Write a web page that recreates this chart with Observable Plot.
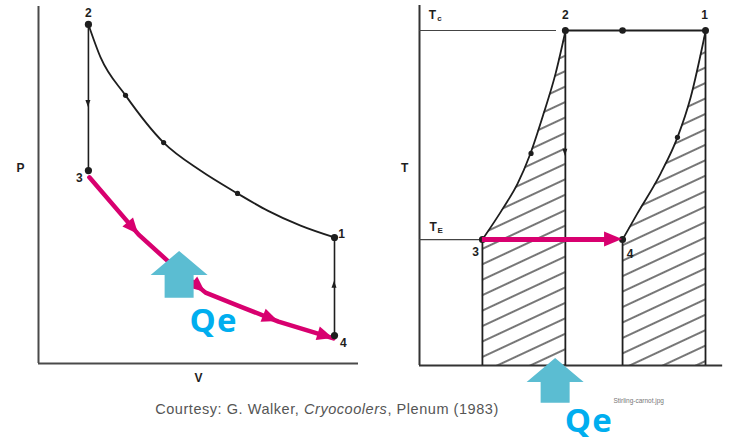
<!DOCTYPE html>
<html><head><meta charset="utf-8">
<script src="https://cdn.jsdelivr.net/npm/d3@7"></script>
<script src="https://cdn.jsdelivr.net/npm/@observablehq/plot@0.6"></script>
<style>
html,body{margin:0;padding:0;background:#fff;}
#wrap{position:relative;width:734px;height:443px;overflow:hidden;background:#fff;}
#pv{position:absolute;left:0;top:0;}
#ts{position:absolute;left:370px;top:0;}
#cap{position:absolute;left:0;width:654px;top:401px;text-align:center;font:14.5px "Liberation Sans",Arial,sans-serif;letter-spacing:0.55px;color:#555;}
</style></head><body>
<div id="wrap"><div id="pv"></div><div id="ts"></div><div id="cap">Courtesy: G. Walker, <i>Cryocoolers</i>, Plenum (1983)</div></div>
<script>
// ---------- P–V diagram data ----------
const pvStates = [
  {id:"1", V:9.25, P:3.52},
  {id:"2", V:1.56, P:9.47},
  {id:"3", V:1.56, P:5.39},
  {id:"4", V:9.25, P:0.78}
];
const pvCompression = [ // 1 -> 2 (isotherm at Tc)
  {V:9.25,P:3.52},{V:8.19,P:3.85},{V:7.16,P:4.27},{V:6.22,P:4.75},{V:5.06,P:5.39},
  {V:3.91,P:6.17},{V:2.72,P:7.49},{V:1.94,P:8.55},{V:1.56,P:9.47}
];
const pvExpansion = [ // 3 -> 4 (isotherm at TE), highlighted
  {V:1.59,P:5.20},{V:3.13,P:3.60},{V:4.13,P:2.79},{V:5.22,P:1.98},
  {V:6.31,P:1.59},{V:7.50,P:1.17},{V:9.22,P:0.70}
];
const pvExpansionHeads = [1,3,5,6];
const pvFlowDots = [{V:2.72,P:7.49},{V:3.91,P:6.17},{V:6.22,P:4.75}];
const pvFlowArrows = [{V:1.56,P0:7.55,P1:7.15},{V:9.25,P0:1.9,P1:2.3}];
const pvLabels = [{t:"2",V:1.56,P:9.80},{t:"3",V:1.28,P:5.17},{t:"1",V:9.47,P:3.62},{t:"4",V:9.53,P:0.57}];
const pvAxisLabels = [{t:"P",V:-0.56,P:5.47},{t:"V",V:5.0,P:-0.42}];
const pvHeat = [{V:4.41, tip:3.13, tail:1.82}];
const pvQe = [{t:"Qe", V:4.72, P:1.17}];

// ---------- T–S diagram data ----------
const tsStates = [
  {id:"1", S:10.0, T:10.0},
  {id:"2", S:5.10, T:10.0},
  {id:"3", S:2.20, T:3.76},
  {id:"4", S:7.10, T:3.76}
];
const tsMidDot = [{S:7.10, T:10.0}];
const tsCurve32 = [
  {S:2.20,T:3.76},{S:2.94,T:4.72},{S:3.43,T:5.43},{S:3.88,T:6.33},{S:4.34,T:7.52},{S:4.76,T:8.72},{S:5.10,T:9.97}
];
const tsCurve41 = [
  {S:7.10,T:3.76},{S:7.62,T:4.54},{S:8.43,T:5.73},{S:9.02,T:6.81},{S:9.48,T:8.00},{S:10.0,T:9.97}
];
const tsFlowDots = [{S:3.90,T:6.33},{S:9.02,T:6.81}];
const tsFlowArrows = [{S:5.10,T0:6.7,T1:6.25}];
const tsLabels = [{t:"2",S:5.10,T:10.45},{t:"1",S:9.97,T:10.45},{t:"3",S:1.96,T:3.37},{t:"4",S:7.36,T:3.33}];
const tsTemps = [{t:"T",sub:"c",S:0.45,T:10.45},{t:"T",sub:"E",S:0.48,T:4.12}];
const tsAxisLabels = [{t:"T",S:-0.52,T:5.88}];
const tsHeat = [{S:4.76, tip:0.21, tail:-1.13}];
const tsQe = [{t:"Qe", S:5.08, T:-1.67}];
const tsFile = [{t:"Stirling-carnot.jpg", S:6.78, T:-1.05}];

// ---------- styles ----------
const MAGENTA = "#d8006f", CYAN_ARROW = "#5bbdd2", CYAN_TEXT = "#00aeef", INK = "#1e1e1e";
const labelFont = {fontFamily:"Liberation Sans, Arial, sans-serif", fontWeight:"bold", fontSize:12, fill:INK};
const qeFont = {textAnchor:"start", fill:CYAN_TEXT, fontSize:33, fontWeight:"bold", fontFamily:"Open Sans, Lato, sans-serif"};

// triangle arrowheads pointing from (x0,y0) to tip (x1,y1)
function heads(items, color, len, wid){
  return (index, scales) => {
    const g = d3.create("svg:g");
    for (const it of items){
      const ax=scales.x(it.x0), ay=scales.y(it.y0), bx=scales.x(it.x1), by=scales.y(it.y1);
      const a=Math.atan2(by-ay,bx-ax), ux=Math.cos(a), uy=Math.sin(a);
      const cx=bx-ux*len, cy=by-uy*len;
      g.append("path")
        .attr("d",`M${bx},${by}L${cx-uy*wid/2},${cy+ux*wid/2}L${cx+uy*wid/2},${cy-ux*wid/2}Z`)
        .attr("fill",color);
    }
    return g.node();
  };
}
// block "heat" arrow pointing up
function blockArrow(items, color){
  return (index, scales) => {
    const g = d3.create("svg:g");
    for (const it of items){
      const cx=scales.x(it.x), ty=scales.y(it.tip), by=scales.y(it.tail);
      const hw=28.5, hh=24, sw=14.5;
      g.append("path")
        .attr("d",`M${cx},${ty}L${cx+hw},${ty+hh}L${cx+sw},${ty+hh}L${cx+sw},${by}L${cx-sw},${by}L${cx-sw},${ty+hh}L${cx-hw},${ty+hh}Z`)
        .attr("fill",color);
    }
    return g.node();
  };
}
function spaceQe(svg){
  d3.select(svg).selectAll("text").filter(function(){ return this.textContent === "Qe"; })
    .attr("letter-spacing", 1.2);
}

// ---------- P–V plot ----------
const expHeadItems = pvExpansionHeads.map(i => ({x0:pvExpansion[i-1].V, y0:pvExpansion[i-1].P, x1:pvExpansion[i].V, y1:pvExpansion[i].P}));
const pvArrowItems = pvFlowArrows.map(d => ({x0:d.V, y0:d.P0, x1:d.V, y1:d.P1}));
const pv = Plot.plot({
  width:370, height:443, margin:0,
  style:{background:"transparent", overflow:"visible"},
  x:{domain:[0,10], range:[38,358], axis:null},
  y:{domain:[0,10], range:[363,5], axis:null},
  marks:[
    Plot.ruleX([0], {y1:0, y2:9.97, stroke:"#4a4a4a", strokeWidth:2}),
    Plot.ruleY([0], {x1:0, x2:10, stroke:"#4a4a4a", strokeWidth:2.2}),
    Plot.line(pvCompression, {x:"V", y:"P", stroke:INK, strokeWidth:1.8, curve:"monotone-x"}),
    Plot.ruleX([pvStates[1].V], {y1:pvStates[2].P, y2:pvStates[1].P, stroke:INK, strokeWidth:1.6}),
    Plot.ruleX([pvStates[0].V], {y1:pvStates[3].P, y2:pvStates[0].P, stroke:INK, strokeWidth:1.6}),
    Plot.dot(pvFlowDots, {x:"V", y:"P", r:2.6, fill:INK}),
    heads(pvArrowItems, INK, 7, 5),
    Plot.line(pvExpansion, {x:"V", y:"P", stroke:MAGENTA, strokeWidth:4.5}),
    heads(expHeadItems, MAGENTA, 16, 14),
    Plot.dot(pvStates, {x:"V", y:"P", r:3.6, fill:INK}),
    blockArrow(pvHeat.map(d => ({x:d.V, tip:d.tip, tail:d.tail})), CYAN_ARROW),
    Plot.text(pvLabels, {x:"V", y:"P", text:"t", ...labelFont}),
    Plot.text(pvAxisLabels, {x:"V", y:"P", text:"t", ...labelFont}),
    Plot.text(pvQe, {x:"V", y:"P", text:"t", ...qeFont})
  ]
});
spaceQe(pv);
document.getElementById("pv").appendChild(pv);

// ---------- T–S plot ----------
const ts = Plot.plot({
  width:364, height:443, margin:0,
  style:{background:"transparent", overflow:"visible"},
  x:{domain:[0,10], range:[49,335], axis:null},
  y:{domain:[0,10], range:[365,30], axis:null},
  marks:[
    Plot.areaY(tsCurve32, {x:"S", y1:0, y2:"T", fill:"url(#hatch)", curve:"monotone-x"}),
    Plot.areaY(tsCurve41, {x:"S", y1:0, y2:"T", fill:"url(#hatch)", curve:"monotone-x"}),
    Plot.ruleX([0], {y1:0, y2:10.75, stroke:"#333", strokeWidth:2}),
    Plot.ruleY([0], {x1:0, x2:10.6, stroke:"#333", strokeWidth:2}),
    Plot.ruleY([tsStates[1].T], {x1:0, x2:4.79, stroke:"#444", strokeWidth:1.2}),
    Plot.ruleY([tsStates[2].T], {x1:0, x2:tsStates[2].S, stroke:"#444", strokeWidth:1.2}),
    Plot.ruleY([tsStates[1].T], {x1:tsStates[1].S, x2:tsStates[0].S, stroke:INK, strokeWidth:2}),
    Plot.ruleX(tsStates, {x:"S", y1:0, y2:"T", stroke:INK, strokeWidth:1.8}),
    Plot.line(tsCurve32, {x:"S", y:"T", stroke:INK, strokeWidth:1.8, curve:"monotone-x"}),
    Plot.line(tsCurve41, {x:"S", y:"T", stroke:INK, strokeWidth:1.8, curve:"monotone-x"}),
    Plot.dot(tsFlowDots, {x:"S", y:"T", r:2.6, fill:INK}),
    heads(tsFlowArrows.map(d => ({x0:d.S, y0:d.T0, x1:d.S, y1:d.T1})), INK, 7, 5),
    Plot.dot(tsMidDot, {x:"S", y:"T", r:3.3, fill:INK}),
    Plot.dot(tsStates, {x:"S", y:"T", r:3.5, fill:INK}),
    Plot.ruleY([tsStates[2].T], {x1:tsStates[2].S, x2:6.5, stroke:MAGENTA, strokeWidth:5}),
    heads([{x0:tsStates[2].S, y0:tsStates[2].T, x1:tsStates[3].S, y1:tsStates[3].T}], MAGENTA, 18, 15),
    blockArrow(tsHeat.map(d => ({x:d.S, tip:d.tip, tail:d.tail})), CYAN_ARROW),
    Plot.text(tsLabels, {x:"S", y:"T", text:"t", ...labelFont}),
    Plot.text(tsAxisLabels, {x:"S", y:"T", text:"t", ...labelFont}),
    Plot.text(tsTemps, {x:"S", y:"T", text:"t", ...labelFont}),
    Plot.text(tsTemps, {x:"S", y:"T", text:"sub", ...labelFont, fontSize:8, dx:7, dy:3}),
    Plot.text(tsQe, {x:"S", y:"T", text:"t", ...qeFont}),
    Plot.text(tsFile, {x:"S", y:"T", text:"t", textAnchor:"start", fill:"#777", fontSize:6.5, fontFamily:"Liberation Sans, Arial, sans-serif"})
  ]
});
spaceQe(ts);
const defs = d3.select(ts).insert("defs", ":first-child");
const pat = defs.append("pattern").attr("id","hatch").attr("patternUnits","userSpaceOnUse")
  .attr("width",14).attr("height",14).attr("patternTransform","rotate(-25)");
pat.append("line").attr("x1",0).attr("x2",14).attr("y1",7).attr("y2",7).attr("stroke","#1a1a1a").attr("stroke-width",1.2);
document.getElementById("ts").appendChild(ts);
</script>
</body></html>
